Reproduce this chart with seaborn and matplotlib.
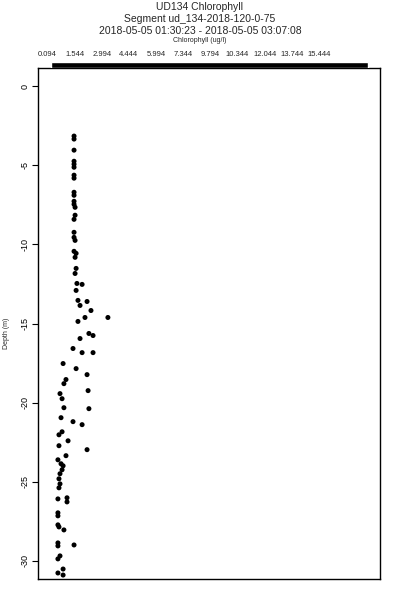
import matplotlib
matplotlib.use("Agg")
import matplotlib.pyplot as plt
import seaborn as sns
import pandas as pd

# chlorophyll (ug/l) and depth (m)
chlorophyll = [1.21, 1.21, 1.21, 1.21, 1.21, 1.21, 1.21, 1.21, 1.21, 1.21,
               1.21, 1.21, 1.26, 1.26, 1.21, 1.21, 1.21, 1.26, 1.21, 1.31,
               1.26, 1.31, 1.26, 1.35, 1.60, 1.31, 1.40, 1.50, 1.84, 2.03,
               1.40, 1.74, 2.85, 1.93, 2.13, 1.50, 1.16, 1.60, 2.13, 0.68,
               1.31, 1.84, 0.82, 0.72, 0.53, 0.63, 1.89, 0.72, 1.93, 0.58,
               1.16, 1.60, 0.63, 0.48, 0.92, 0.48, 1.84, 0.82, 0.43, 0.58,
               0.68, 0.63, 0.53, 0.48, 0.53, 0.48, 0.43, 0.87, 0.87, 0.43,
               0.43, 0.43, 0.48, 0.72, 0.43, 0.43, 1.21, 0.53, 0.43, 0.68,
               0.43, 0.68]
depth = [-3.16, -3.35, -4.05, -4.75, -4.94, -5.13, -5.63, -5.82, -6.71, -6.90,
         -7.28, -7.47, -7.66, -8.16, -8.42, -9.24, -9.56, -9.75, -10.44, -10.57,
         -10.82, -11.52, -11.84, -12.47, -12.53, -12.91, -13.54, -13.86, -13.61, -14.18,
         -14.87, -14.62, -14.62, -15.63, -15.76, -15.95, -16.58, -16.84, -16.84, -17.53,
         -17.85, -18.23, -18.54, -18.80, -19.43, -19.75, -19.24, -20.32, -20.38, -20.95,
         -21.20, -21.39, -21.84, -22.03, -22.41, -22.72, -22.97, -23.35, -23.61, -23.86,
         -23.99, -24.24, -24.49, -24.81, -25.13, -25.38, -26.08, -26.01, -26.27, -26.96,
         -27.15, -27.72, -27.85, -28.04, -28.86, -29.05, -28.99, -29.68, -29.87, -30.51,
         -30.76, -30.89]

scale_labels = ["0.094", "1.544", "2.994", "4.444", "5.994", "7.344",
                "9.794", "10.344", "12.044", "13.744", "15.444"]
depth_ticks = [0, -5, -10, -15, -20, -25, -30]

title_lines = ["UD134 Chlorophyll",
               "Segment ud_134-2018-120-0-75",
               "2018-05-05 01:30:23 - 2018-05-05 03:07:08"]

df = pd.DataFrame({"chl": chlorophyll, "depth": depth})

sns.set_theme(style="ticks")
plt.rcParams["font.family"] = ["Liberation Sans", "DejaVu Sans"]

fig = plt.figure(figsize=(4, 6), dpi=100)
fig.patch.set_facecolor("white")

# main profile axes
ax = fig.add_axes([38 / 400, 1 - 579 / 600, 342 / 400, 511 / 600])
sns.scatterplot(data=df, x="chl", y="depth", color="black", s=13,
                edgecolor="none", ax=ax)
ax.set_xlim(-0.535, 16.025)
ax.set_ylim(-31.14, 1.14)
ax.set_xticks([])
ax.set_yticks(depth_ticks)
ax.set_yticklabels([str(t) for t in depth_ticks], rotation=90, va="center",
                   fontsize=6.5)
ax.tick_params(axis="y", length=4, width=0.8, pad=2, colors="black")
for s in ax.spines.values():
    s.set_linewidth(1.0)
    s.set_color("black")
ax.set_xlabel("")
ax.set_ylabel("")
fig.text(7 / 400, 1 - 333 / 600, "Depth (m)", rotation=90, fontsize=5,
         ha="center", va="center")

# black scale bar with labels on top
ax_bar = fig.add_axes([38 / 400, 1 - 68 / 600, 342 / 400, 6 / 600])
ax_bar.barh(0, width=11.676, left=0.129, height=1, color="black")
ax_bar.set_xlim(-0.35, 12.25)
ax_bar.set_ylim(-0.5, 0.5)
ax_bar.set_yticks([])
ax_bar.set_xticks(range(len(scale_labels)))
ax_bar.set_xticklabels(scale_labels, fontsize=5.5)
ax_bar.xaxis.set_ticks_position("top")
ax_bar.tick_params(axis="x", length=0, pad=3)
for s in ax_bar.spines.values():
    s.set_visible(False)
ax_bar.patch.set_alpha(0)

# titles
for i, line in enumerate(title_lines):
    fig.text(0.5, 1 - (7 + 12 * i) / 600, line, fontsize=7.5,
             ha="center", va="center")
fig.text(0.5, 1 - 40 / 600, "Chlorophyll (ug/l)", fontsize=5,
         ha="center", va="center")

fig.savefig("out.png", dpi=100)
